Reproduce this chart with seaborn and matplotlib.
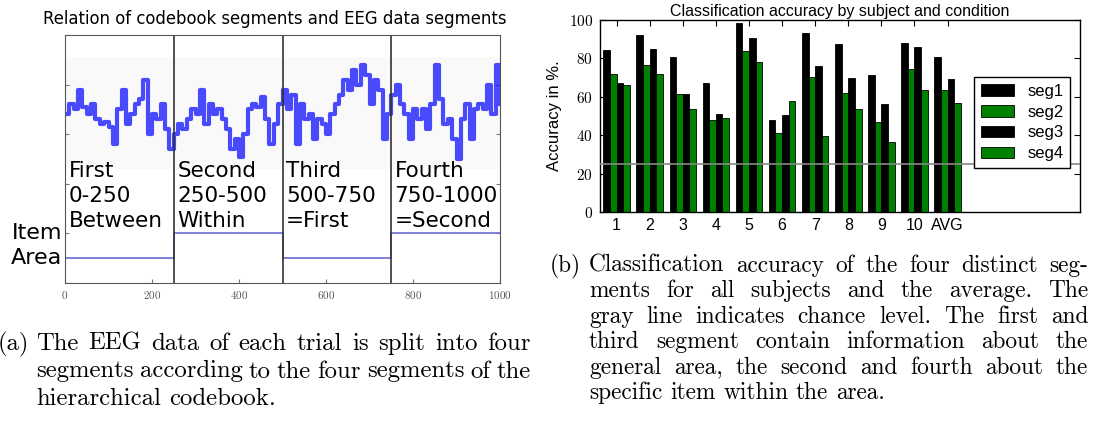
import numpy as np
import pandas as pd
import seaborn as sns
import matplotlib.pyplot as plt

# ---- data ----
# (a) EEG trace, one value every 10 samples (0..1000)
eeg_t = list(range(0, 1001, 10))
eeg_v = [3.4, 3.6, 3.5, 3.9, 3.55, 3.4, 3.6, 3.3, 3.2, 3.25, 3.15, 2.8, 3.5,
         3.9, 3.2, 3.4, 3.6, 3.7, 4.1, 3.0, 3.4, 3.3, 3.6, 3.1, 2.7,
         3.0, 3.2, 3.1, 3.3, 3.5, 3.4, 3.9, 3.2, 3.6, 3.4, 3.5, 3.3, 3.1,
         2.7, 2.9, 2.55, 3.0, 3.5, 3.6, 3.55, 3.75, 3.3, 2.8, 3.2, 3.6,
         3.9, 3.5, 3.8, 2.8, 3.6, 3.3, 3.4, 2.9, 3.3, 3.2, 3.0, 3.4, 3.6,
         3.8, 4.1, 3.9, 4.3, 4.0, 4.4, 4.2, 3.6, 4.1, 3.9, 2.9, 3.4,
         3.8, 4.0, 3.6, 3.4, 2.9, 3.5, 3.3, 3.5, 3.1, 3.6, 4.4, 3.7, 3.2,
         3.3, 2.9, 2.5, 3.3, 3.6, 2.9, 3.5, 3.6, 3.5, 4.0, 3.4, 4.4,
         3.6]

# codebook level (Area / Item) per segment
seg_bounds = [0, 250, 500, 750, 1000]
level_v = [0.5, 1.0, 0.5, 1.0, 1.0]
seg_labels = ["First\n0-250\nBetween", "Second\n250-500\nWithin",
              "Third\n500-750\n=First", "Fourth\n750-1000\n=Second"]

# (b) classification accuracy
subjects = ['1', '2', '3', '4', '5', '6', '7', '8', '9', '10', 'AVG']
seg1 = [84.3, 92.2, 80.7, 67.3, 98.6, 47.8, 93.2, 87.5, 71.3, 88.0, 80.9]
seg2 = [71.8, 76.5, 61.7, 47.7, 83.7, 41.4, 70.3, 62.1, 47.0, 74.3, 63.8]
seg3 = [67.0, 85.0, 61.2, 51.1, 90.6, 50.6, 76.2, 69.7, 56.0, 86.1, 69.4]
seg4 = [66.4, 72.0, 53.7, 48.7, 78.1, 57.6, 39.8, 53.6, 36.2, 63.5, 56.9]
chance = 25

caption_a = ["The EEG data of each trial is split into four",
             "segments according to the four segments of the",
             "hierarchical codebook."]
caption_b = ["Classification accuracy of the four distinct seg-",
             "ments for all subjects and the average.  The",
             "gray line indicates chance level. The first and",
             "third segment contain information about the",
             "general area, the second and fourth about the",
             "specific item within the area."]

plt.rcParams['font.family'] = ['Liberation Sans', 'DejaVu Sans']
plt.rcParams['axes.formatter.use_mathtext'] = True

W, H = 1093, 421
fig = plt.figure(figsize=(W / 100, H / 100), dpi=100)


def px_box(l, t, r, b):
    return [l / W, 1 - b / H, (r - l) / W, (b - t) / H]


# ---------------- left panel ----------------
ax1 = fig.add_axes(px_box(65, 35, 500, 283))
ax1.axhspan(2.3, 4.56, color='#f9f9f9', lw=0, zorder=0)
sns.lineplot(x=eeg_t, y=eeg_v, ax=ax1, drawstyle='steps-post', color='#0000ff',
             lw=3.0, alpha=0.7, estimator=None, sort=False)
sns.lineplot(x=seg_bounds, y=level_v, ax=ax1, drawstyle='steps-post',
             color='#6b6bd6', lw=1.2, estimator=None, sort=False)
for b in seg_bounds[1:-1]:
    ax1.axvline(b, color='#333333', lw=1.2)
ax1.set_xlim(0, 1000)
ax1.set_ylim(0, 5)
ax1.set_xticks([0, 200, 400, 600, 800, 1000])
ax1.set_yticks([1, 2, 3, 4])
ax1.set_yticklabels([])
ax1.tick_params(direction='in', length=3, right=True, color='#777777',
                labelsize=8, labelcolor='#555555', pad=4)
for lab in ax1.get_xticklabels():
    lab.set_fontfamily('cmr10')
for sp in ax1.spines.values():
    sp.set_color('#555555')
for start, lab in zip(seg_bounds[:-1], seg_labels):
    ax1.text(start + 8, 1.76, lab, fontsize=15.5, family='DejaVu Sans',
             va='center', ha='left', linespacing=1.3)
ax1.text(-0.006, 1.0, "Item", transform=ax1.get_yaxis_transform(),
         fontsize=16, family='DejaVu Sans', ha='right', va='center')
ax1.text(-0.006, 0.5, "Area", transform=ax1.get_yaxis_transform(),
         fontsize=16, family='DejaVu Sans', ha='right', va='center')
fig.text(275 / W, 1 - 19 / H, "Relation of codebook segments and EEG data segments",
         fontsize=11.9, family='DejaVu Sans', ha='center', va='center')

# ---------------- right panel ----------------
ax2 = fig.add_axes(px_box(600, 20, 1080, 212))
df = pd.DataFrame({
    'subject': subjects * 4,
    'segment': ['seg1'] * 11 + ['seg2'] * 11 + ['seg3'] * 11 + ['seg4'] * 11,
    'acc': seg1 + seg2 + seg3 + seg4,
})
sns.barplot(data=df, x='subject', y='acc', hue='segment', ax=ax2,
            palette=['#000000', '#008000', '#000000', '#008000'],
            saturation=1, width=0.8, edgecolor='black', linewidth=0.6)
ax2.axhline(chance, color='#888888', lw=1.2, zorder=5)
ax2.set_xlim(-0.5, 14.0)
ax2.set_ylim(0, 100)
ax2.set_yticks([0, 20, 40, 60, 80, 100])
ax2.set_xlabel('')
ax2.set_ylabel('Accuracy in %.', fontsize=12, labelpad=5)
ax2.set_title('Classification accuracy by subject and condition', fontsize=11.5, pad=3)
ax2.tick_params(direction='in', length=4, top=True, right=True, width=0.8)
ax2.tick_params(axis='x', labelsize=11.5, pad=4)
ax2.tick_params(axis='y', labelsize=11, pad=5)
for lab in ax2.get_yticklabels():
    lab.set_fontfamily('cmr10')
for sp in ax2.spines.values():
    sp.set_color('black')
    sp.set_linewidth(1)
ax2.legend(loc='upper left', bbox_to_anchor=(0.779, 0.703), fontsize=12,
           frameon=True, fancybox=False, framealpha=1, edgecolor='black',
           handlelength=2.0, handleheight=0.7, handletextpad=0.8,
           labelspacing=0.35, borderpad=0.4, borderaxespad=0)

# ---------------- captions ----------------
renderer = fig.canvas.get_renderer()


def caption(tag, lines, x_tag, x_text, x_right, y_first, pitch, size):
    fig.text(x_tag / W, 1 - y_first / H, tag, fontsize=size, family='cmr10',
             va='baseline')
    space = size * 0.333 * 100 / 72
    for i, line in enumerate(lines):
        y = 1 - (y_first + i * pitch) / H
        words = line.split()
        texts = [fig.text(0, y, w, fontsize=size, family='cmr10', va='baseline')
                 for w in words]
        widths = [t.get_window_extent(renderer).width for t in texts]
        if i < len(lines) - 1:
            gap = (x_right - x_text - sum(widths)) / (len(words) - 1)
        else:
            gap = space
        x = x_text
        for t, w in zip(texts, widths):
            t.set_x(x / W)
            x += w + gap


caption('(a)', caption_a, -2, 36, 531, 350, 27.5, 17.8)
caption('(b)', caption_b, 550, 589, 1088, 272, 25.4, 16.8)

fig.savefig('out.png', dpi=100)
